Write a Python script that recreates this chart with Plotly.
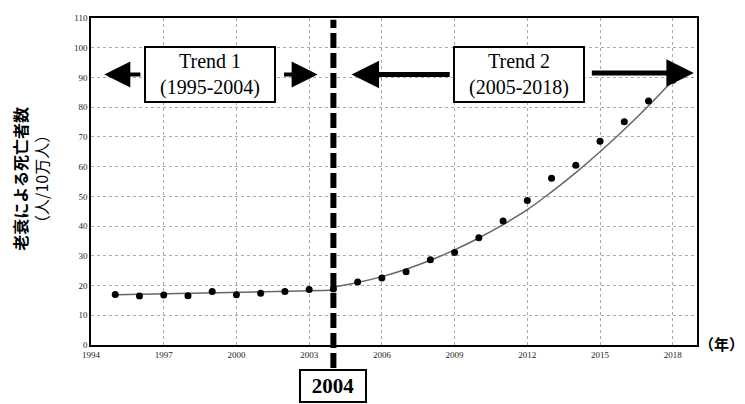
import plotly.graph_objects as go

# ---- data ----
years_t1 = [1995, 1996, 1997, 1998, 1999, 2000, 2001, 2002, 2003, 2004]
rate_t1 = [17.0, 16.5, 16.8, 16.6, 18.0, 16.9, 17.4, 18.0, 18.7, 18.8]
years_t2 = [2005, 2006, 2007, 2008, 2009, 2010, 2011, 2012, 2013, 2014, 2015, 2016, 2017, 2018]
rate_t2 = [21.2, 22.5, 24.6, 28.7, 31.1, 36.1, 41.7, 48.6, 56.1, 60.5, 68.5, 75.1, 82.1, 89.1]

fit1_years = [1995, 2004]
fit1_vals = [16.9, 18.4]
fit2_years = [2004, 2005, 2006, 2007, 2008, 2009, 2010, 2011, 2012, 2013, 2014, 2015, 2016, 2017, 2018]
fit2_vals = [19.5, 21.0, 23.0, 25.5, 28.5, 32.0, 36.0, 40.5, 45.5, 51.5, 58.0, 65.0, 72.5, 80.5, 89.0]

x_ticks = [1994, 1997, 2000, 2003, 2006, 2009, 2012, 2015, 2018]
y_ticks = [0, 10, 20, 30, 40, 50, 60, 70, 80, 90, 100, 110]
join_year = 2004

serif = "Liberation Serif"
jp = "Noto Sans CJK JP"

fig = go.Figure()
fig.add_trace(go.Scatter(x=fit1_years, y=fit1_vals, mode="lines",
                         line=dict(color="#666", width=1.5), showlegend=False))
fig.add_trace(go.Scatter(x=fit2_years, y=fit2_vals, mode="lines", line_shape="spline",
                         line=dict(color="#666", width=1.5), showlegend=False))
fig.add_trace(go.Scatter(x=years_t1 + years_t2, y=rate_t1 + rate_t2, mode="markers",
                         marker=dict(color="black", size=7), showlegend=False))

# vertical thick dashed joinpoint line
fig.add_shape(type="line", xref="x", yref="paper", x0=join_year, x1=join_year,
              y0=-0.07, y1=0.995, line=dict(color="black", width=6, dash="15px,5px"))

ann = []
# trend boxes
box_style = dict(xref="x", yref="y", showarrow=False, xanchor="center", yanchor="middle",
                 font=dict(family=serif, size=20, color="black"),
                 bordercolor="black", borderwidth=2, borderpad=1, bgcolor="white",
                 width=126, height=51)
ann.append(dict(x=1998.9, y=91, text="Trend 1<br>(1995-2004)", **box_style))
ann.append(dict(x=2011.66, y=91, text="Trend 2<br>(2005-2018)", **box_style))
# arrows
arrow_style = dict(xref="x", yref="y", axref="x", ayref="y", text="", showarrow=True,
                   arrowhead=2, arrowcolor="black")
ann.append(dict(x=1994.55, y=91, ax=1996.1, ay=91, arrowsize=1.3, arrowwidth=4, **arrow_style))
ann.append(dict(x=2003.35, y=91, ax=2001.9, ay=91, arrowsize=1.3, arrowwidth=4, **arrow_style))
ann.append(dict(x=2004.75, y=91, ax=2008.86, ay=91, arrowsize=1.1, arrowwidth=5, **arrow_style))
ann.append(dict(x=2018.87, y=91.5, ax=2014.6, ay=91.5, arrowsize=1.1, arrowwidth=5, **arrow_style))
# 2004 box below axis
ann.append(dict(x=join_year, y=-0.124, xref="x", yref="paper", text="<b>2004</b>",
                showarrow=False, xanchor="center", yanchor="middle",
                font=dict(family=serif, size=21, color="black"),
                bordercolor="black", borderwidth=2, borderpad=2, bgcolor="white",
                width=60, height=26))
# axis titles
ann.append(dict(x=-0.1, y=0.51, xref="paper", yref="paper", xanchor="center", yanchor="middle",
                text="<b>老衰による死亡者数</b><br>（人/10万人）", textangle=-90, showarrow=False,
                font=dict(family=jp, size=16, color="black")))
ann.append(dict(x=1.0, y=0.005, xref="paper", yref="paper", text="<b>（年）</b>",
                showarrow=False, xanchor="left", yanchor="middle",
                font=dict(family=jp, size=15, color="black")))

# the page body adds an 8px margin, so the figure is sized to fit the window
fig.update_layout(
    width=737, height=396,
    margin=dict(l=83, r=48, t=5, b=59),
    paper_bgcolor="white", plot_bgcolor="white",
    annotations=ann,
    xaxis=dict(range=[1994, 2019], tickvals=x_ticks, ticktext=[str(v) for v in x_ticks],
               showgrid=True, gridcolor="#aaa", griddash="dot", gridwidth=1,
               showline=True, linecolor="black", linewidth=1.5, mirror=True,
               zeroline=False, ticks="", tickfont=dict(family=serif, size=9, color="#222")),
    yaxis=dict(range=[0, 110], tickvals=y_ticks, ticktext=[str(v) for v in y_ticks],
               showgrid=True, gridcolor="#aaa", griddash="dot", gridwidth=1,
               showline=True, linecolor="black", linewidth=1.5, mirror=True,
               zeroline=False, ticks="", tickfont=dict(family=serif, size=9, color="#222")),
)

fig.write_html("out.html")
